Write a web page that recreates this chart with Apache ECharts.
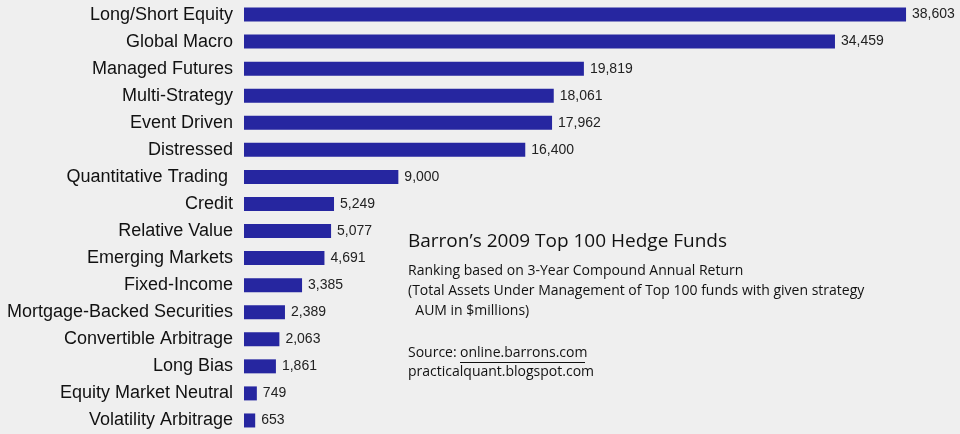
<!DOCTYPE html><html><head><meta charset="utf-8"><script src="https://cdn.jsdelivr.net/npm/echarts@6/dist/echarts.min.js"></script>
<style>body{margin:0;background:#efefef}#c{width:960px;height:434px}</style></head><body><div id="c"></div><script>
const categories=["Long/Short Equity","Global Macro","Managed Futures","Multi-Strategy","Event Driven","Distressed","Quantitative Trading ","Credit","Relative Value","Emerging Markets","Fixed-Income","Mortgage-Backed Securities","Convertible Arbitrage","Long Bias","Equity Market Neutral","Volatility Arbitrage"];
const values=[38603,34459,19819,18061,17962,16400,9000,5249,5077,4691,3385,2389,2063,1861,749,653];
const chart=echarts.init(document.getElementById('c'));
const F='"Liberation Sans", Arial, sans-serif';
chart.setOption({backgroundColor:'#efefef',animation:false,
grid:{left:244,right:30,top:1,height:434},
xAxis:{type:'value',min:0,max:40000,show:false},
yAxis:{type:'category',inverse:true,data:categories,axisLine:{show:false},axisTick:{show:false},
 axisLabel:{fontFamily:F,fontSize:18,color:'#111',margin:11}},
series:[{type:'bar',data:values,barWidth:14,itemStyle:{color:'#2626a0'},
 label:{show:true,position:'right',fontFamily:F,fontSize:14,color:'#222',distance:6,formatter:p=>p.value.toLocaleString('en-US')}}],
graphic:[
 {type:'text',left:408,top:232,style:{text:'Barron’s 2009 Top 100 Hedge Funds',font:'19px "Open Sans", "Liberation Sans", sans-serif',fill:'#111'}},
 {type:'text',left:408,top:261,style:{text:'Ranking based on 3-Year Compound Annual Return\n(Total Assets Under Management of Top 100 funds with given strategy\n  AUM in $millions)',font:'14px "Open Sans", "Liberation Sans", sans-serif',fill:'#111',lineHeight:20}},
 {type:'text',left:408,top:346,style:{text:'Source: ',font:'14px "Open Sans", "Liberation Sans", sans-serif',fill:'#111'}},
 {type:'text',left:460,top:346,style:{text:'online.barrons.com',font:'14px "Open Sans", "Liberation Sans", sans-serif',fill:'#111'}},
 {type:'rect',shape:{x:460,y:362,width:125,height:1},style:{fill:'#111'}},
 {type:'text',left:408,top:365,style:{text:'practicalquant.blogspot.com',font:'14px "Open Sans", "Liberation Sans", sans-serif',fill:'#111'}}
]});
</script></body></html>
